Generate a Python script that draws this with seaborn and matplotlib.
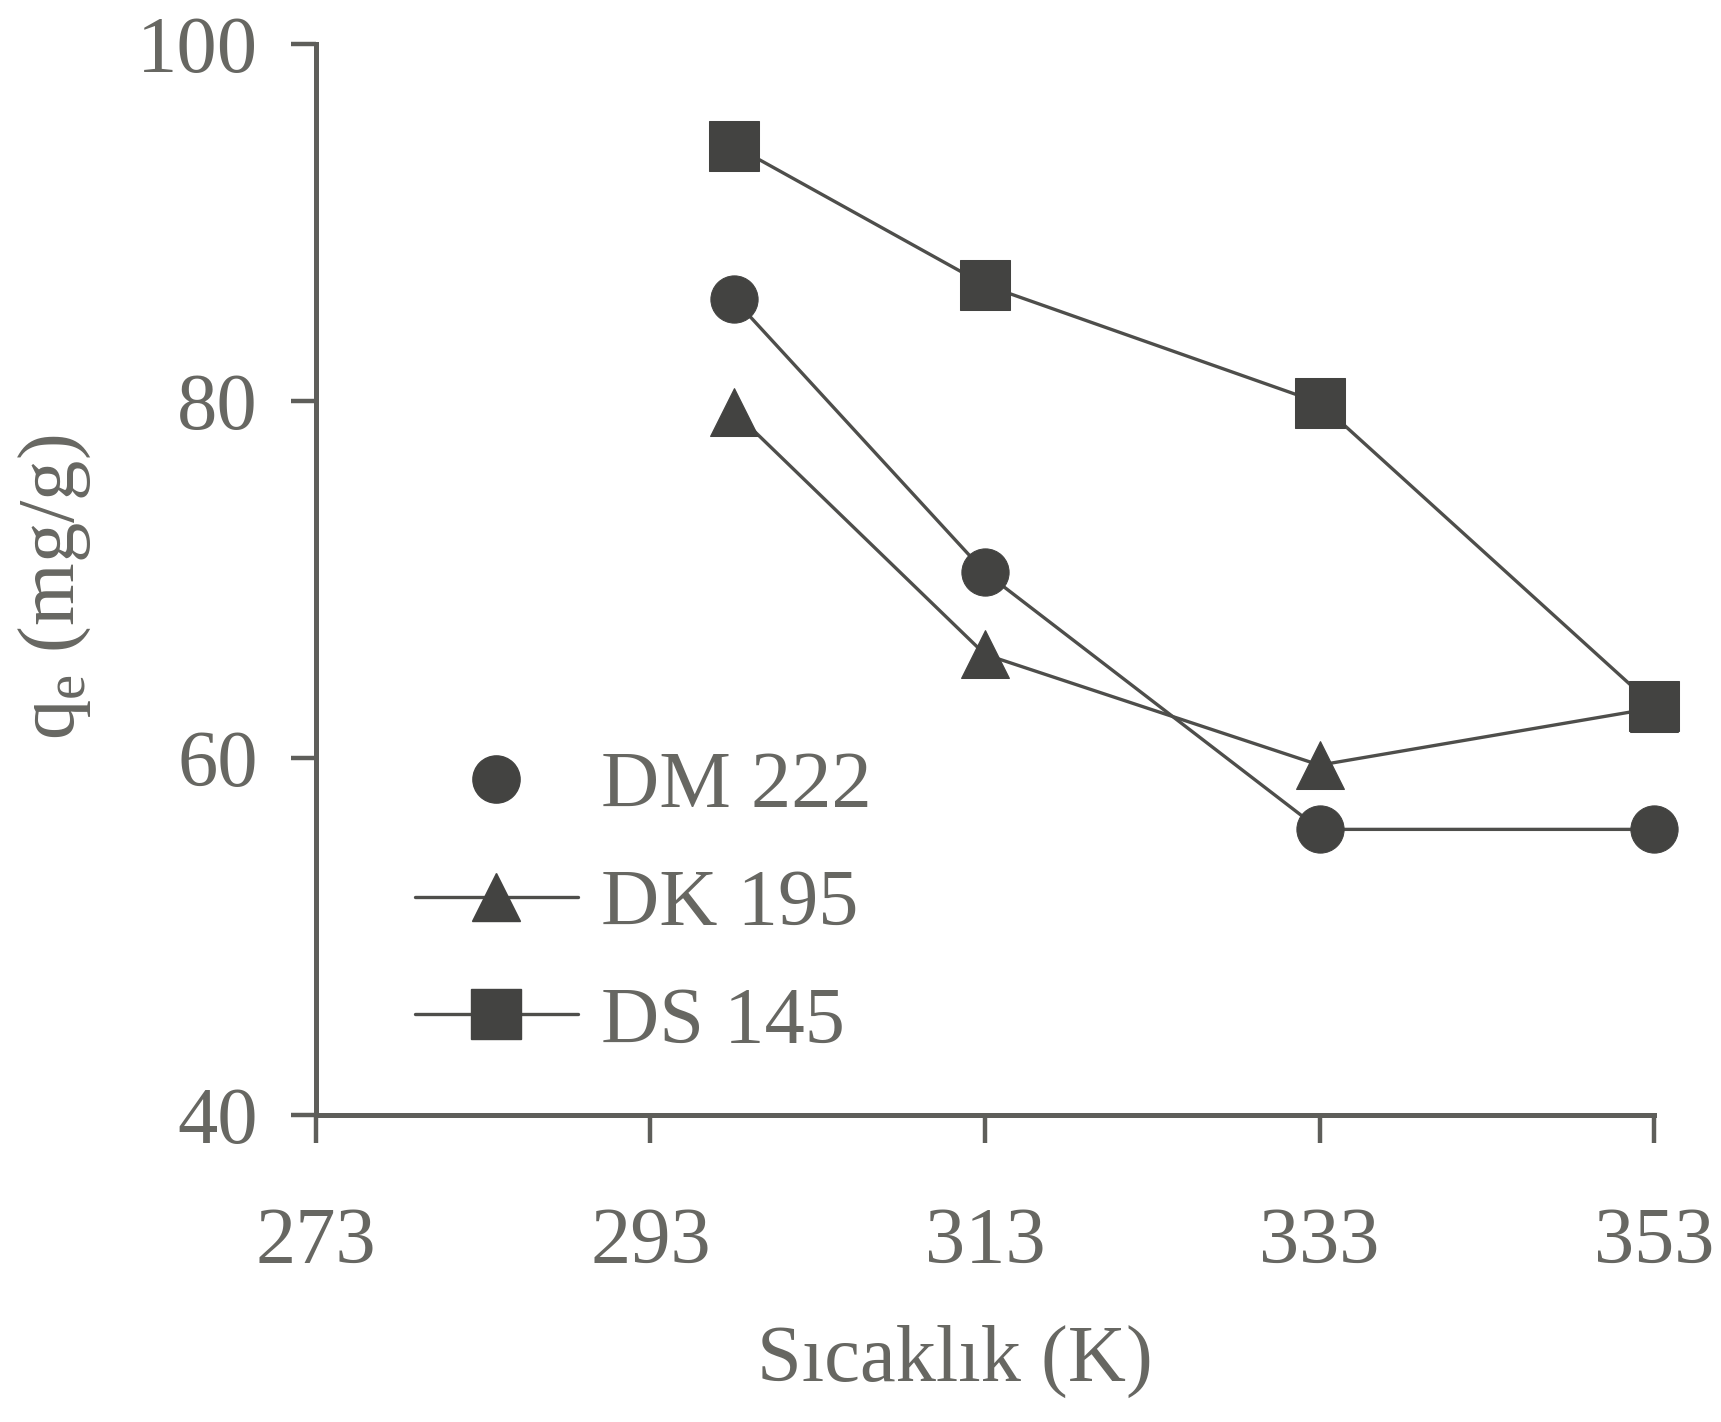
import matplotlib
matplotlib.use("Agg")
import matplotlib.pyplot as plt
from matplotlib.lines import Line2D
import seaborn as sns
import pandas as pd

# Adsorption capacity vs temperature for three dyes
temperature = [298, 313, 333, 353]
dm222 = [85.7, 70.4, 56.0, 56.0]
dk195 = [79.4, 65.8, 59.6, 62.8]
ds145 = [94.3, 86.5, 79.9, 62.9]
series_names = ["DM 222", "DK 195", "DS 145"]
series_markers = {"DM 222": "o", "DK 195": "^", "DS 145": "s"}
series_sizes = {"DM 222": 34, "DK 195": 34, "DS 145": 36}

x_ticks = [273, 293, 313, 333, 353]
y_ticks = [40, 60, 80, 100]

df = pd.DataFrame({
    "T": temperature * 3,
    "q": dm222 + dk195 + ds145,
    "series": [n for n in series_names for _ in temperature],
})

sns.set_style("ticks")
plt.rcParams["font.family"] = ["Liberation Serif", "DejaVu Serif"]
plt.rcParams["mathtext.fontset"] = "custom"
plt.rcParams["mathtext.rm"] = "Liberation Serif"
plt.rcParams["mathtext.it"] = "Liberation Serif:italic"

text_col = "#676762"
mark_col = "#434341"
line_col = "#4e4e4b"
fs = 58

fig = plt.figure(figsize=(17.21, 14.22), dpi=100)
ax = fig.add_axes([0.1836, 0.2159, 0.7775, 0.7532])

sns.lineplot(
    data=df, x="T", y="q", hue="series", style="series",
    palette={n: line_col for n in series_names},
    markers=series_markers, dashes=False, markersize=35,
    linewidth=2.4, legend=False, ax=ax,
)
for ln, name in zip(ax.lines, series_names):
    ln.set_markerfacecolor(mark_col)
    ln.set_markeredgecolor(mark_col)
    ln.set_markersize(series_sizes[name])
    ln.set_clip_on(False)

ax.set_xlim(273, 353)
ax.set_ylim(40, 100)
ax.set_xticks(x_ticks)
ax.set_yticks(y_ticks)
ax.set_xticklabels([str(v) for v in x_ticks])
ax.set_yticklabels([str(v) for v in y_ticks])

sns.despine(ax=ax)
for side in ("left", "bottom"):
    ax.spines[side].set_linewidth(3.6)
    ax.spines[side].set_color("#5e5e5a")
ax.tick_params(axis="y", direction="out", length=18, width=3.2,
               color="#5e5e5a", labelsize=fs, labelcolor=text_col, pad=24)
ax.tick_params(axis="x", direction="out", length=20, width=3.2,
               color="#5e5e5a", labelsize=fs, labelcolor=text_col, pad=46)

ax.set_xlabel("Sıcaklık (K)", fontsize=fs, color=text_col, va="center")
ax.xaxis.set_label_coords(0.4776, -0.2297)
ax.set_ylabel(r"q$_{\mathrm{e}}$ (mg/g)", fontsize=fs, color=text_col, va="center")
ax.yaxis.set_label_coords(-0.195, 0.493)

handles = [
    Line2D([], [], marker="o", linestyle="none", markersize=34,
           color=mark_col, label="DM 222"),
    Line2D([], [], marker="^", linestyle="-", linewidth=2.4, markersize=34,
           color=line_col, markerfacecolor=mark_col, markeredgecolor=mark_col,
           label="DK 195"),
    Line2D([], [], marker="s", linestyle="-", linewidth=2.4, markersize=36,
           color=line_col, markerfacecolor=mark_col, markeredgecolor=mark_col,
           label="DS 145"),
]
leg = ax.legend(handles=handles, loc="upper left", bbox_to_anchor=(0.074, 0.34),
                frameon=False, fontsize=fs, handlelength=2.02, handletextpad=0.29,
                labelspacing=0.55, borderpad=0, borderaxespad=0)
for t in leg.get_texts():
    t.set_color(text_col)

fig.savefig("out.png", dpi=100, facecolor="white")
